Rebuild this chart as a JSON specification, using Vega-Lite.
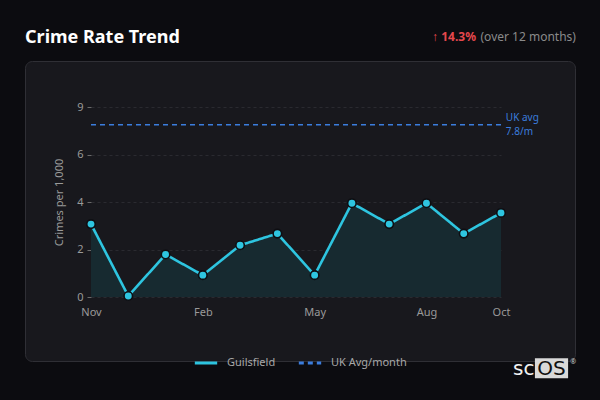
{
  "$schema": "https://vega.github.io/schema/vega-lite/v6.json",
  "width": 550,
  "height": 300,
  "autosize": {"type": "none"},
  "padding": {"left": 25, "top": 61, "right": 25, "bottom": 39},
  "background": "#0c0c10",
  "config": {
    "font": "Noto Sans",
    "view": {"fill": "#18181d", "stroke": "#2f2f35", "strokeWidth": 1, "cornerRadius": 7},
    "axis": {
      "labelColor": "#9a9a9a",
      "labelFontSize": 11,
      "titleColor": "#9a9a9a",
      "titleFontSize": 11,
      "titleFontWeight": "normal",
      "domain": false
    },
    "legend": {
      "labelColor": "#a8a8a8",
      "labelFontSize": 11,
      "title": null
    }
  },
  "datasets": {
    "trend": [
      {"i": 0, "month": "Nov", "rate": 3.07, "series": "Guilsfield"},
      {"i": 1, "month": "Dec", "rate": 0.04, "series": "Guilsfield"},
      {"i": 2, "month": "Jan", "rate": 1.79, "series": "Guilsfield"},
      {"i": 3, "month": "Feb", "rate": 0.92, "series": "Guilsfield"},
      {"i": 4, "month": "Mar", "rate": 2.18, "series": "Guilsfield"},
      {"i": 5, "month": "Apr", "rate": 2.67, "series": "Guilsfield"},
      {"i": 6, "month": "May", "rate": 0.92, "series": "Guilsfield"},
      {"i": 7, "month": "Jun", "rate": 3.95, "series": "Guilsfield"},
      {"i": 8, "month": "Jul", "rate": 3.07, "series": "Guilsfield"},
      {"i": 9, "month": "Aug", "rate": 3.95, "series": "Guilsfield"},
      {"i": 10, "month": "Sep", "rate": 2.67, "series": "Guilsfield"},
      {"i": 11, "month": "Oct", "rate": 3.54, "series": "Guilsfield"}
    ],
    "uk": [
      {"series": "UK Avg/month", "rate": 7.25}
    ],
    "one": [{}]
  },
  "layer": [
    {
      "data": {"name": "trend"},
      "mark": {"type": "area", "fill": "#172a30", "opacity": 1},
      "encoding": {
        "x": {
          "field": "i",
          "type": "quantitative",
          "scale": {"domain": [0, 11], "nice": false, "zero": false, "range": [66, 476]},
          "axis": {
            "title": null,
            "offset": -64,
            "values": [0, 3, 6, 9, 11],
            "labelExpr": "['Nov','Dec','Jan','Feb','Mar','Apr','May','Jun','Jul','Aug','Sep','Oct'][datum.value]",
            "labelFlush": false,
            "ticks": false,
            "tickSize": 0,
            "labelPadding": 9,
            "grid": false
          }
        },
        "y": {
          "field": "rate",
          "type": "quantitative",
          "scale": {"domain": [0, 8], "nice": false, "range": [236, 46]},
          "axis": {
            "title": "Crimes per 1,000",
            "offset": -66,
            "titlePadding": 12,
            "values": [0, 2, 4, 6, 8],
            "labelExpr": "datum.value == 8 ? '9' : datum.label",
            "labelFlush": false,
            "tickColor": "#6a6a6a",
            "tickSize": 4,
            "labelPadding": 4,
            "grid": true,
            "gridColor": "#2a2a30",
            "gridDash": [3, 3]
          }
        }
      }
    },
    {
      "data": {"name": "uk"},
      "mark": {"type": "rule", "strokeWidth": 1.5},
      "encoding": {
        "y": {"field": "rate", "type": "quantitative"},
        "x": {"datum": 0, "type": "quantitative"},
        "x2": {"datum": 11},
        "color": {
          "field": "series",
          "type": "nominal",
          "scale": {"domain": ["Guilsfield", "UK Avg/month"], "range": ["#2ec5e0", "#3b7ddd"]},
          "legend": {
            "orient": "none",
            "legendX": 168,
            "legendY": 289,
            "direction": "horizontal",
            "symbolType": "stroke",
            "symbolSize": 500,
            "symbolStrokeWidth": 3,
            "labelOffset": 8,
            "columnPadding": 16
          }
        },
        "strokeDash": {
          "field": "series",
          "type": "nominal",
          "scale": {"domain": ["Guilsfield", "UK Avg/month"], "range": [[1, 0], [5, 4]]}
        }
      }
    },
    {
      "data": {"name": "trend"},
      "mark": {"type": "line", "strokeWidth": 2.6},
      "encoding": {
        "x": {"field": "i", "type": "quantitative"},
        "y": {"field": "rate", "type": "quantitative"},
        "color": {"field": "series", "type": "nominal"},
        "strokeDash": {"field": "series", "type": "nominal"}
      }
    },
    {
      "data": {"name": "trend"},
      "mark": {"type": "point", "filled": true, "fill": "#2ec5e0", "stroke": "#0e0e12", "strokeWidth": 1.6, "size": 72, "opacity": 1},
      "encoding": {
        "x": {"field": "i", "type": "quantitative"},
        "y": {"field": "rate", "type": "quantitative"}
      }
    },
    {
      "data": {"name": "one"},
      "mark": {"type": "text", "text": "UK avg", "color": "#3b7ddd", "fontSize": 10, "align": "left", "baseline": "middle"},
      "encoding": {
        "x": {"datum": 11.13, "type": "quantitative"},
        "y": {"datum": 7.53, "type": "quantitative"}
      }
    },
    {
      "data": {"name": "one"},
      "mark": {"type": "text", "text": "7.8/m", "color": "#3b7ddd", "fontSize": 10, "align": "left", "baseline": "middle"},
      "encoding": {
        "x": {"datum": 11.13, "type": "quantitative"},
        "y": {"datum": 6.93, "type": "quantitative"}
      }
    },
    {
      "data": {"name": "one"},
      "mark": {"type": "text", "text": "Crime Rate Trend", "color": "#ffffff", "fontSize": 18, "fontWeight": "bold", "align": "left", "baseline": "alphabetic"},
      "encoding": {
        "x": {"datum": -1.77, "type": "quantitative"},
        "y": {"datum": 10.68, "type": "quantitative"}
      }
    },
    {
      "data": {"name": "one"},
      "mark": {"type": "text", "text": "(over 12 months)", "color": "#8a8a8a", "fontSize": 12, "align": "right", "baseline": "alphabetic"},
      "encoding": {
        "x": {"datum": 13.01, "type": "quantitative"},
        "y": {"datum": 10.77, "type": "quantitative"}
      }
    },
    {
      "data": {"name": "one"},
      "mark": {"type": "text", "text": "↑ 14.3%", "color": "#e5484d", "fontSize": 12, "fontWeight": "bold", "align": "right", "baseline": "alphabetic"},
      "encoding": {
        "x": {"datum": 10.33, "type": "quantitative"},
        "y": {"datum": 10.77, "type": "quantitative"}
      }
    },
    {
      "data": {"name": "one"},
      "mark": {"type": "rect", "fill": "#d9d9d9"},
      "encoding": {
        "x": {"datum": 11.91, "type": "quantitative"},
        "x2": {"datum": 12.8},
        "y": {"datum": -2.58, "type": "quantitative"},
        "y2": {"datum": -3.42}
      }
    },
    {
      "data": {"name": "one"},
      "mark": {"type": "text", "text": "sc", "color": "#f2f2f2", "fontSize": 20, "fontWeight": 500, "font": "DejaVu Sans", "align": "right", "baseline": "alphabetic"},
      "encoding": {
        "x": {"datum": 11.9, "type": "quantitative"},
        "y": {"datum": -3.3, "type": "quantitative"}
      }
    },
    {
      "data": {"name": "one"},
      "mark": {"type": "text", "text": "OS", "color": "#111111", "fontSize": 20, "fontWeight": 500, "font": "DejaVu Sans", "align": "center", "baseline": "alphabetic"},
      "encoding": {
        "x": {"datum": 12.355, "type": "quantitative"},
        "y": {"datum": -3.3, "type": "quantitative"}
      }
    },
    {
      "data": {"name": "one"},
      "mark": {"type": "text", "text": "®", "color": "#cccccc", "fontSize": 7, "align": "left", "baseline": "middle"},
      "encoding": {
        "x": {"datum": 12.86, "type": "quantitative"},
        "y": {"datum": -2.74, "type": "quantitative"}
      }
    }
  ]
}
